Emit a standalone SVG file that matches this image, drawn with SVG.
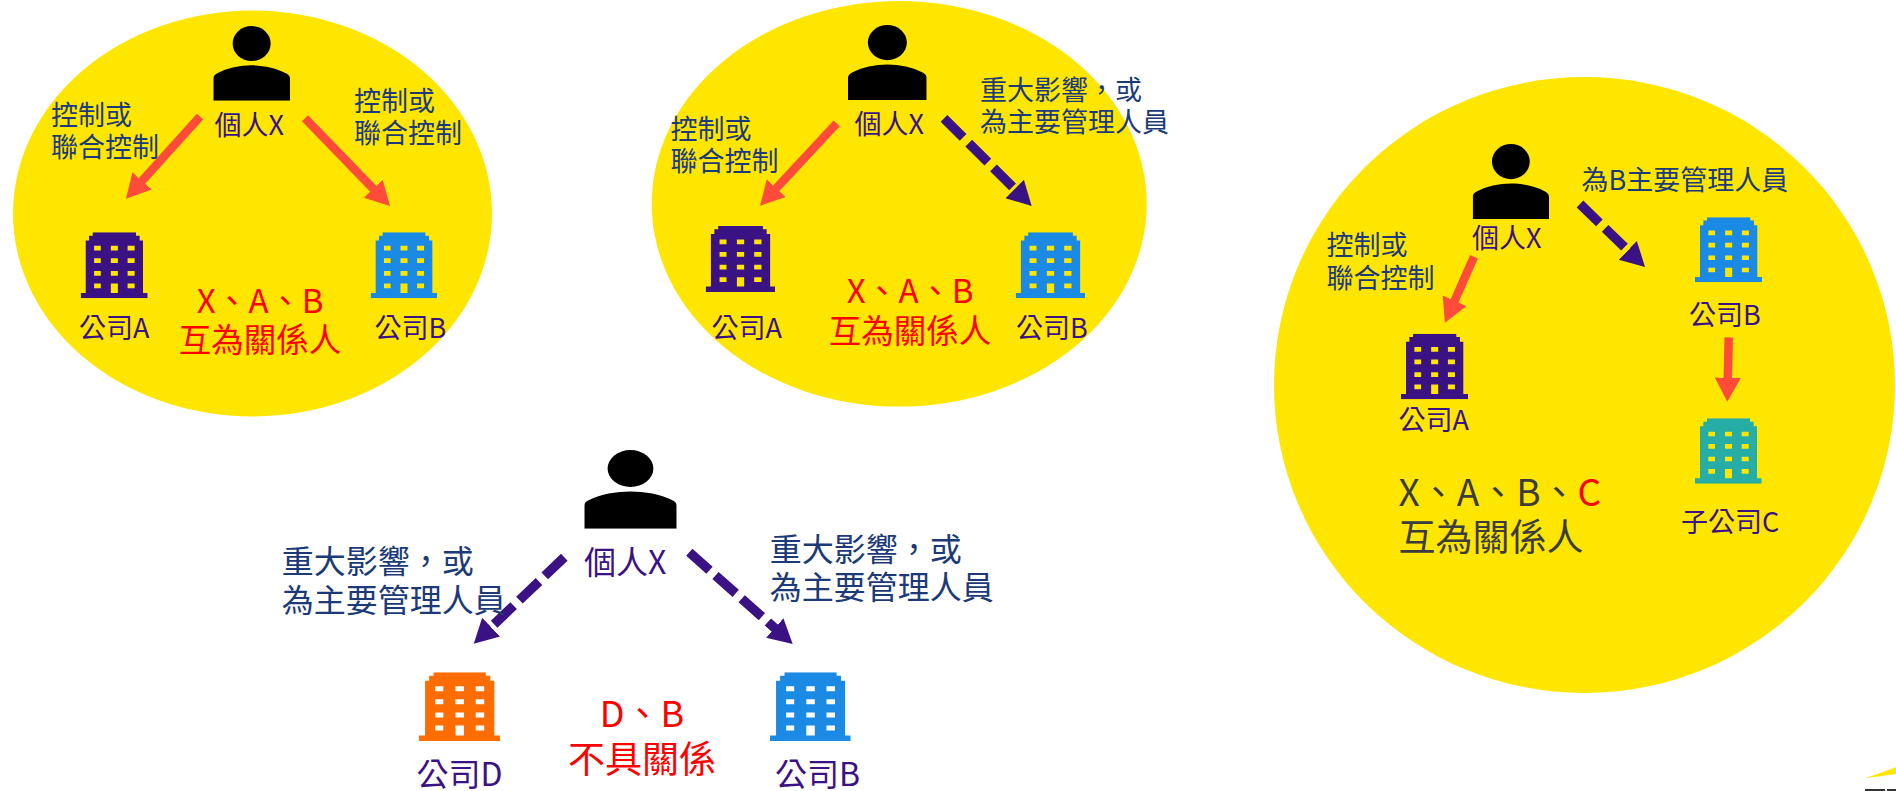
<svg xmlns="http://www.w3.org/2000/svg" width="1896" height="791" viewBox="0 0 1896 791">
<style>
text{font-family:"Noto Sans CJK TC","Noto Sans",sans-serif;font-size:27px}
.p{fill:#3b1283}.n{fill:#1c3a78}.r{fill:#ff0000}.d{fill:#3c3c3c}
.big{font-size:32.5px}.big1{font-size:33px}.xl{font-size:37px}.m{font-size:32px}.l36{font-size:36px}
.bg{fill:#ffe600}
.solid{stroke:#ff4b3a;stroke-width:8.5;fill:none;marker-end:url(#hr)}
.dash{stroke:#3b1283;stroke-width:9.5;fill:none;stroke-dasharray:27 8;marker-end:url(#hp)}
.i{fill:#3b1283}.b{fill:#1a8ae5}.t{fill:#26ada6}.o{fill:#ff6d00}
</style>
<defs>
<marker id="hr" markerUnits="userSpaceOnUse" markerWidth="26" markerHeight="27" refX="1" refY="13" orient="auto"><path d="M0 0L24 13L0 26Z" fill="#ff4b3a"/></marker>
<marker id="hp" markerUnits="userSpaceOnUse" markerWidth="26" markerHeight="27" refX="1" refY="13" orient="auto"><path d="M0 0L24 13L0 26Z" fill="#3b1283"/></marker>
<symbol id="person" viewBox="0 0 230 224" preserveAspectRatio="none"><ellipse cx="115" cy="52.5" rx="57" ry="52.5"/><path d="M0 224V158C0 150 5 146 12 142C40 126 80 118 115 118C150 118 190 126 218 142C225 146 230 150 230 158V224Z"/></symbol>
<symbol id="bld" viewBox="0 0 200 196" preserveAspectRatio="none"><path fill-rule="evenodd" d="M15 24H25V10H36V0H165V10H176V24H186V180H200V196H0V180H15ZM40 40V54H60V40ZM90 40V54H111V40ZM140 40V54H161V40ZM40 77V91H60V77ZM90 77V91H111V77ZM140 77V91H161V77ZM40 115V129H60V115ZM90 115V129H111V115ZM140 115V129H161V115ZM40 152V166H60V152ZM90 152V180H111V152ZM140 152V166H161V152Z"/></symbol>
</defs>

<g id="backgrounds">
<ellipse class="bg" cx="252.5" cy="213.5" rx="239.5" ry="203"/>
<ellipse class="bg" cx="899.2" cy="203.8" rx="247.5" ry="202.8"/>
<ellipse class="bg" cx="1584.5" cy="385" rx="310.5" ry="308"/>
</g>

<g id="connectors">
<path class="solid" d="M200 116.7L141.4 181.6"/>
<path class="solid" d="M305 118.3L374 189.5"/>
<path class="solid" d="M836.7 123.3L775.7 188.9"/>
<path class="dash" d="M944 118.3L1015.4 189.7"/>
<path class="solid" d="M1474 256.7L1454.2 301.7"/>
<path class="dash" d="M1580 204L1628.5 251"/>
<path class="solid" d="M1728.7 337.3L1727.8 378.7"/>
<path class="dash" d="M564.3 557.3L490.4 627.8"/>
<path class="dash" d="M689.3 552.3L775.5 628.7"/>
</g>

<g id="group1">
<g id="g1-x"><use href="#person" x="213.3" y="26" width="76.7" height="74.7"/><text class="p" x="214.5" y="135">個人X</text></g>
<g id="g1-a"><use class="i" href="#bld" x="80.7" y="232.3" width="67" height="66"/><text class="p" x="79" y="338">公司A</text></g>
<g id="g1-b"><use class="b" href="#bld" x="370.7" y="232.3" width="66.3" height="66"/><text class="p" x="374.5" y="338">公司B</text></g>
<g id="g1-labels">
<text class="n"><tspan x="51" y="125">控制或</tspan><tspan x="51" y="157">聯合控制</tspan></text>
<text class="n"><tspan x="354" y="111">控制或</tspan><tspan x="354" y="143">聯合控制</tspan></text>
<text class="r" text-anchor="middle"><tspan class="big1" x="260" y="313">X、A、B</tspan><tspan class="big" x="260" y="352">互為關係人</tspan></text>
</g>
</g>

<g id="group2">
<g id="g2-x"><use href="#person" x="848" y="25" width="78.7" height="75"/><text class="p" x="854.5" y="134">個人X</text></g>
<g id="g2-a"><use class="i" href="#bld" x="705.7" y="226" width="69.3" height="66"/><text class="p" x="711.5" y="338">公司A</text></g>
<g id="g2-b"><use class="b" href="#bld" x="1015.7" y="232.3" width="69.3" height="66"/><text class="p" x="1016" y="338">公司B</text></g>
<g id="g2-labels">
<text class="n"><tspan x="670.5" y="139">控制或</tspan><tspan x="670.5" y="171">聯合控制</tspan></text>
<text class="n"><tspan x="980" y="99.5">重大影響，或</tspan><tspan x="980" y="132">為主要管理人員</tspan></text>
<text class="r" text-anchor="middle"><tspan class="big1" x="910" y="303">X、A、B</tspan><tspan class="big" x="910" y="343">互為關係人</tspan></text>
</g>
</g>

<g id="group3">
<g id="g3-x"><use href="#person" x="1472.7" y="144" width="76.3" height="75"/><text class="p" x="1472" y="247.5">個人X</text></g>
<g id="g3-a"><use class="i" href="#bld" x="1401" y="333.7" width="67" height="65.6"/><text class="p" x="1398.5" y="430">公司A</text></g>
<g id="g3-b"><use class="b" href="#bld" x="1695" y="217.3" width="67" height="65"/><text class="p" x="1689" y="325">公司B</text></g>
<g id="g3-c"><use class="t" href="#bld" x="1695" y="418.3" width="66.7" height="65.4"/><text class="p" x="1681" y="532">子公司C</text></g>
<g id="g3-labels">
<text class="n" x="1581.5" y="190">為B主要管理人員</text>
<text class="n"><tspan x="1326.5" y="255">控制或</tspan><tspan x="1326.5" y="288">聯合控制</tspan></text>
<text class="d xl"><tspan x="1398.5" y="506">X、A、B、<tspan class="r">C</tspan></tspan><tspan x="1398.5" y="551">互為關係人</tspan></text>
</g>
</g>

<g id="group4">
<g id="g4-x"><use href="#person" x="584.3" y="450" width="92.4" height="78.7"/><text class="p m" x="584" y="574">個人X</text></g>
<g id="g4-d"><use class="o" href="#bld" x="419" y="672.3" width="81" height="68.7"/><text class="p m" x="416.5" y="786">公司D</text></g>
<g id="g4-b"><use class="b" href="#bld" x="770" y="672.3" width="80.7" height="68.7"/><text class="p m" x="775" y="786">公司B</text></g>
<g id="g4-labels">
<text class="n m"><tspan x="281.7" y="573">重大影響，或</tspan><tspan x="281.7" y="612">為主要管理人員</tspan></text>
<text class="n m"><tspan x="769.7" y="560.5">重大影響，或</tspan><tspan x="769.7" y="599">為主要管理人員</tspan></text>
<text class="r" text-anchor="middle"><tspan class="l36" x="642" y="727">D、B</tspan><tspan class="xl" x="642" y="773">不具關係</tspan></text>
</g>
</g>

<g id="corner-logo">
<path class="bg" d="M1865 778.3L1896 767.3V774Z"/>
<rect x="1865" y="789" width="20" height="2" fill="#333"/>
<rect x="1887" y="789" width="9" height="2" fill="#333"/>
</g>
</svg>
